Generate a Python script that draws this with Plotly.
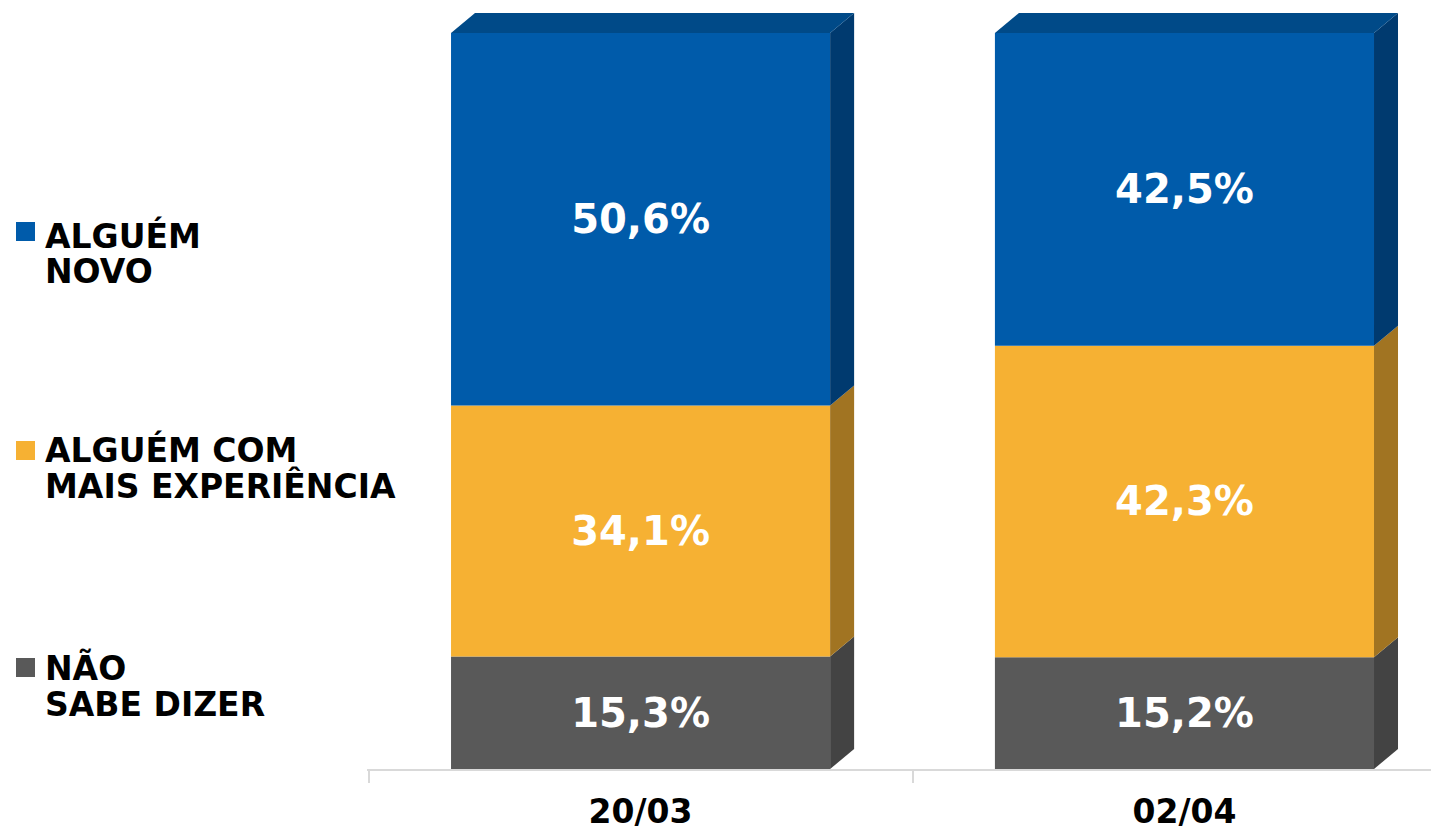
import plotly.graph_objects as go

# ── Data ──────────────────────────────────────────────────────────────────────
dates       = ["20/03", "02/04"]
nao_sabe    = [15.3, 15.2]
experiencia = [34.1, 42.3]
novo        = [50.6, 42.5]

series = [
    ("NÃO SABE DIZER", nao_sabe, "#595959", "#434343"),
    ("ALGUÉM COM MAIS EXPERIÊNCIA", experiencia, "#F6B133", "#A17422"),
    ("ALGUÉM NOVO", novo, "#005BAA", "#003A6F"),
]
TOP_FACE = "#004A88"

FONT = "DejaVu Sans"
OFF = 8                      # page body margin of the browser
W, H = 1439 - OFF, 832 - OFF
PLOT_L, PLOT_B = 367 - OFF, 63
BAR_W = 0.697
X_RANGE = [-0.503, 1.468]
Y_RANGE = [0, (H - PLOT_B) / 7.36]
# depth of the fake 3D faces (data units)
DX = 24 / ((W - PLOT_L) / (X_RANGE[1] - X_RANGE[0]))
DY = 20 / 7.36

xs = list(range(len(dates)))
fig = go.Figure()

base = [0.0] * len(dates)
for name, vals, front, side in series:
    fig.add_trace(go.Bar(
        x=xs, y=vals, base=base, width=BAR_W, name=name,
        marker=dict(color=front, line_width=0),
        texttemplate="<b>%{y:.1f}%</b>", textposition="inside",
        insidetextanchor="middle", textangle=0,
        textfont=dict(color="white", size=40, family=FONT),
        hoverinfo="skip", showlegend=False,
    ))
    # side faces
    for i, v in enumerate(vals):
        x1 = xs[i] + BAR_W / 2
        y0, y1 = base[i], base[i] + v
        fig.add_trace(go.Scatter(
            x=[x1, x1 + DX, x1 + DX, x1, x1],
            y=[y0, y0 + DY, y1 + DY, y1, y0],
            fill="toself", fillcolor=side, mode="lines",
            line=dict(width=0, color=side), hoverinfo="skip", showlegend=False,
        ))
    base = [b + v for b, v in zip(base, vals)]

# top faces
for i, t in enumerate(base):
    x0, x1 = xs[i] - BAR_W / 2, xs[i] + BAR_W / 2
    fig.add_trace(go.Scatter(
        x=[x0, x0 + DX, x1 + DX, x1, x0],
        y=[t, t + DY, t + DY, t, t],
        fill="toself", fillcolor=TOP_FACE, mode="lines",
        line=dict(width=0, color=TOP_FACE), hoverinfo="skip", showlegend=False,
    ))

# ── Custom legend on the left ─────────────────────────────────────────────────
legend_items = [
    (["ALGUÉM", "NOVO"], "#005BAA", 222, [236, 271]),
    (["ALGUÉM COM", "MAIS EXPERIÊNCIA"], "#F6B133", 441, [450, 486]),
    (["NÃO", "SABE DIZER"], "#595959", 658, [668, 704]),
]
plot_h = H - PLOT_B
for lines, col, sq_top, ys in legend_items:
    sq_top -= OFF
    fig.add_shape(type="rect", xref="paper", yref="paper",
                  x0=(16 - OFF) / W, x1=(35 - OFF) / W,
                  y0=(plot_h - sq_top - 19) / plot_h, y1=(plot_h - sq_top) / plot_h,
                  fillcolor=col, line_width=0)
    for txt, py in zip(lines, ys):
        fig.add_annotation(text=f"<b>{txt}</b>", xref="paper", yref="paper",
                           x=(43 - OFF) / W, y=(plot_h - (py - OFF)) / plot_h,
                           xanchor="left", yanchor="middle", showarrow=False,
                           font=dict(size=33, color="black", family=FONT))

fig.update_layout(
    width=W, height=H,
    barmode="overlay",
    separators=",.",
    paper_bgcolor="white", plot_bgcolor="white",
    margin=dict(l=0, r=0, t=0, b=PLOT_B),
    font=dict(family=FONT, color="black"),
    xaxis=dict(
        domain=[PLOT_L / W, 1], range=X_RANGE,
        tickvals=xs, ticktext=[f"<b>{d}</b>" for d in dates],
        ticks="", tickfont=dict(size=33, color="black", family=FONT),
        showline=True, linecolor="#d9d9d9", linewidth=2,
        showgrid=False, zeroline=False, ticklabelstandoff=12,
        minor=dict(tickvals=[-0.5, 0.5, 1.5], ticks="outside", ticklen=12,
                   tickcolor="#d9d9d9", tickwidth=2, showgrid=False),
    ),
    yaxis=dict(range=Y_RANGE, visible=False, showgrid=False, zeroline=False),
)

fig.write_html("out.html")
